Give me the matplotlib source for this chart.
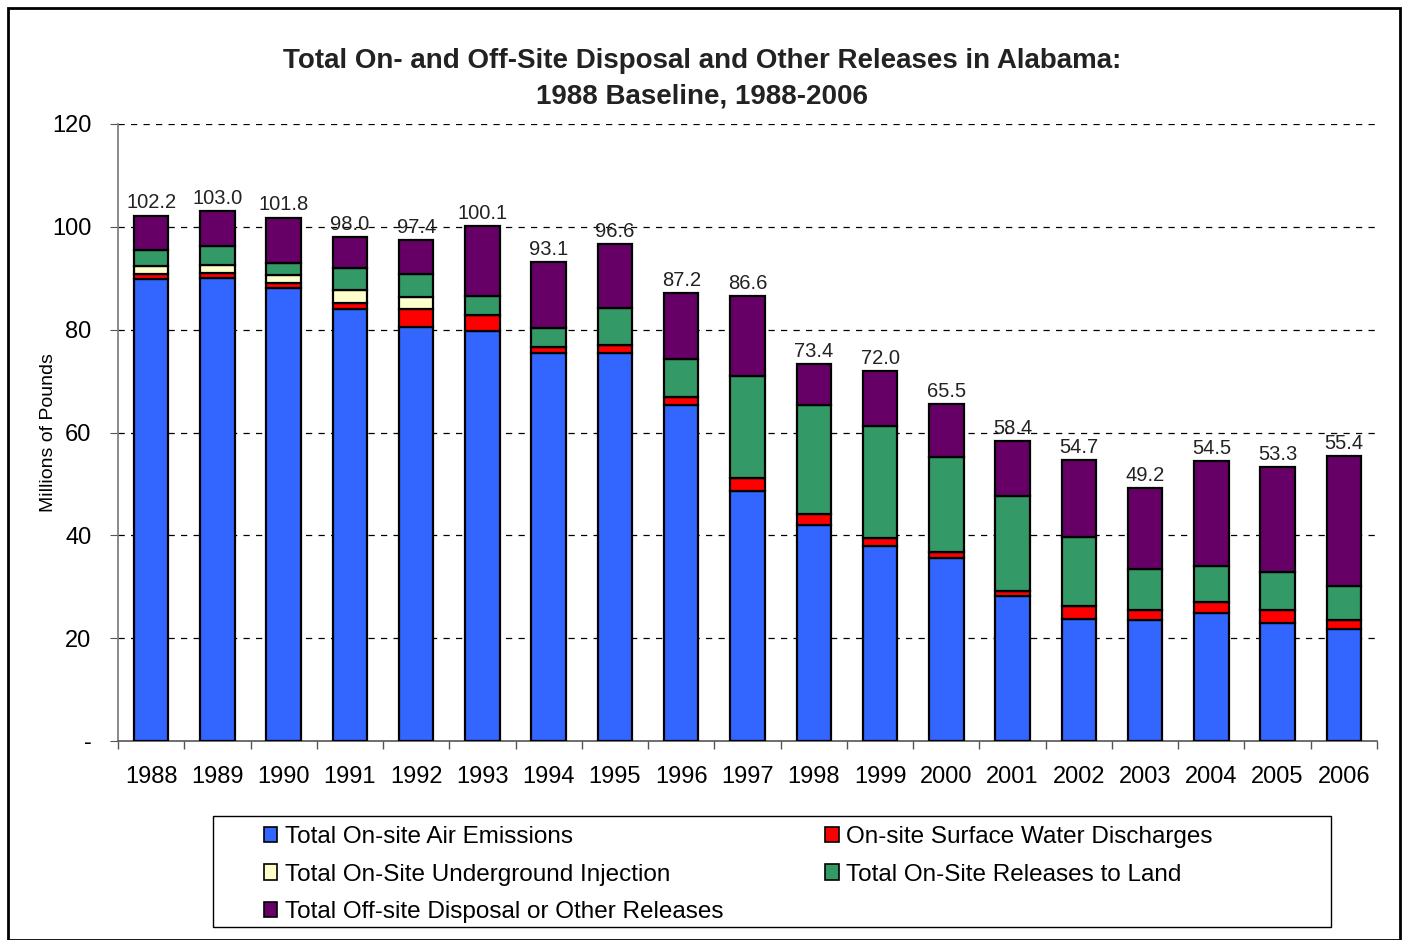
import matplotlib
matplotlib.use("Agg")
import matplotlib.pyplot as plt
import numpy as np
from matplotlib.patches import Rectangle, Patch

plt.rcParams['font.family'] = ['Liberation Sans', 'DejaVu Sans']

years = ['1988', '1989', '1990', '1991', '1992', '1993', '1994', '1995', '1996', '1997',
         '1998', '1999', '2000', '2001', '2002', '2003', '2004', '2005', '2006']
air = [89.8, 90.0, 88.1, 84.1, 80.6, 79.8, 75.4, 75.5, 65.4, 48.6,
       42.1, 37.9, 35.5, 28.2, 23.7, 23.5, 24.9, 23.0, 21.8]
water = [1.0, 1.1, 0.9, 1.1, 3.4, 3.0, 1.3, 1.6, 1.6, 2.5,
         2.0, 1.6, 1.3, 0.9, 2.5, 1.9, 2.1, 2.4, 1.7]
underground = [1.5, 1.5, 1.6, 2.6, 2.3, 0.0, 0.0, 0.0, 0.0, 0.0,
               0.0, 0.0, 0.0, 0.0, 0.0, 0.0, 0.0, 0.0, 0.0]
land = [3.2, 3.7, 2.3, 4.2, 4.5, 3.8, 3.7, 7.2, 7.2, 19.8,
        21.3, 21.7, 18.4, 18.5, 13.5, 8.1, 7.0, 7.4, 6.7]
offsite = [6.7, 6.7, 8.9, 6.0, 6.6, 13.5, 12.7, 12.3, 13.0, 15.7,
           8.0, 10.8, 10.3, 10.8, 15.0, 15.7, 20.5, 20.5, 25.2]
totals = [102.2, 103.0, 101.8, 98.0, 97.4, 100.1, 93.1, 96.6, 87.2, 86.6,
          73.4, 72.0, 65.5, 58.4, 54.7, 49.2, 54.5, 53.3, 55.4]

series = [
    ('Total On-site Air Emissions', air, '#3366FF'),
    ('On-site Surface Water Discharges', water, '#FF0000'),
    ('Total On-Site Underground Injection', underground, '#FFFFCC'),
    ('Total On-Site Releases to Land', land, '#339966'),
    ('Total Off-site Disposal or Other Releases', offsite, '#660066'),
]

fig = plt.figure(figsize=(14.04, 9.40), dpi=100)
ax = fig.add_axes([118/1404, 1-741/940, (1377-118)/1404, (741-124)/940])

x = np.arange(len(years))
bottom = np.zeros(len(years))
handles = {}
for name, vals, col in series:
    v = np.array(vals)
    ax.bar(x, v, bottom=bottom, width=0.52, color=col, edgecolor='black',
           linewidth=1.6, zorder=3)
    handles[name] = Patch(facecolor=col, edgecolor='black', linewidth=1.2, label=name)
    bottom += v

for xi, t in zip(x, totals):
    ax.text(xi, t + 0.6, f'{t:.1f}', ha='center', va='bottom', fontsize=14.5,
            color='#222222', zorder=4)

ax.set_xlim(-0.5, len(years) - 0.5)
ax.set_ylim(0, 120)
ax.set_yticks([0, 20, 40, 60, 80, 100, 120])
ax.set_yticklabels(['-', '20', '40', '60', '80', '100', '120'])
for yv in [20, 40, 60, 80, 100, 120]:
    ax.axhline(yv, color='black', linestyle=(0, (5, 5)), linewidth=0.9, zorder=1)

ax.set_xticks(x)
ax.set_xticklabels(years)
ax.set_xticks(np.arange(-0.5, len(years)), minor=True)
ax.tick_params(axis='x', which='major', length=0, pad=18, labelsize=17)
ax.tick_params(axis='x', which='minor', length=6, direction='out', width=1, color='#555555')
ax.tick_params(axis='y', which='major', length=6, direction='out', labelsize=17, pad=13,
               color='#555555')

for s in ['top', 'right']:
    ax.spines[s].set_visible(False)
ax.spines['left'].set_color('#777777')
ax.spines['bottom'].set_color('#555555')
ax.spines['left'].set_linewidth(1.2)
ax.spines['bottom'].set_linewidth(1.2)

ax.set_ylabel('Millions of Pounds', fontsize=14)
ax.yaxis.set_label_coords((57 - 118) / (1377 - 118), 0.5)

fig.text(0.5, 1-61/940, 'Total On- and Off-Site Disposal and Other Releases in Alabama:',
         ha='center', va='center', fontsize=20, fontweight='bold', color='#222222')
fig.text(0.5, 1-96/940, '1988 Baseline, 1988-2006',
         ha='center', va='center', fontsize=20, fontweight='bold', color='#222222')

# legend frame
fig.patches.append(Rectangle((213/1404, 1-927/940), (1331-213)/1404, (927-816)/940,
                             transform=fig.transFigure, fill=False, edgecolor='black',
                             linewidth=1.0))

order = ['Total On-site Air Emissions', 'Total On-Site Underground Injection',
         'Total Off-site Disposal or Other Releases',
         'On-site Surface Water Discharges', 'Total On-Site Releases to Land']
leg = fig.legend([handles[n] for n in order], order, ncol=2,
                 loc='upper left', bbox_to_anchor=(264/1404, 1-826/940),
                 fontsize=17.5, frameon=False,
                 handlelength=0.55, handleheight=0.6, handletextpad=0.3,
                 labelspacing=0.64, borderpad=0, borderaxespad=0, columnspacing=4.2)

fig.patches.append(Rectangle((8/1404, 0), 1392/1404, 1-8/940, transform=fig.transFigure,
                             fill=False, edgecolor='black', linewidth=2.0))

fig.savefig('out.png', dpi=100)
